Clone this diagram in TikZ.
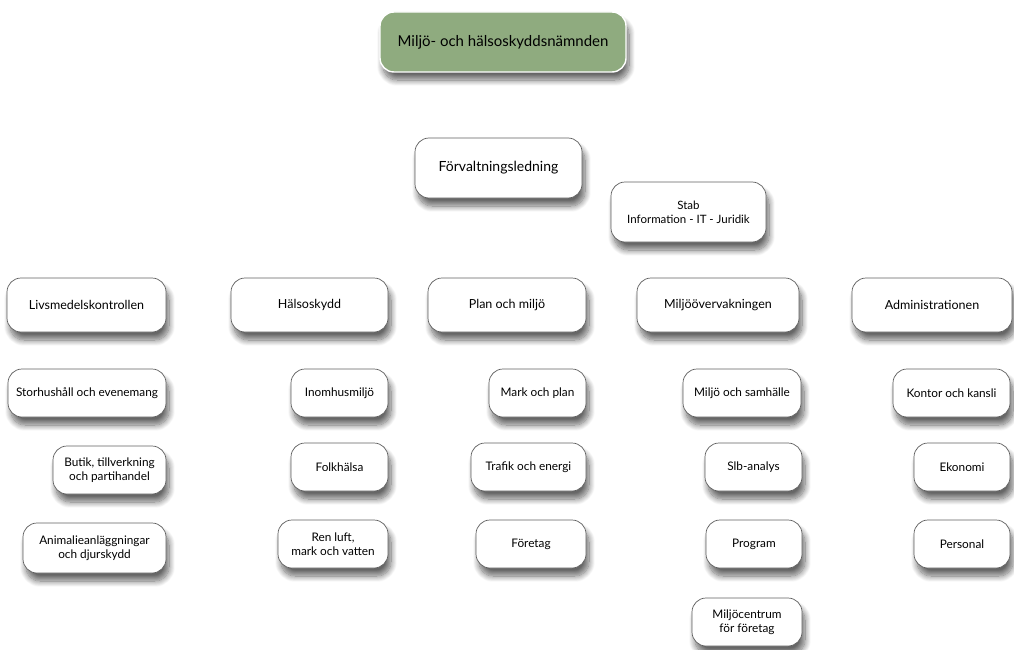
\documentclass[tikz,border=0pt]{standalone}
\usepackage{fontspec}
\setmainfont{Lato}
\usepackage{xcolor}
\usetikzlibrary{positioning, shadows, shadows.blur}
\definecolor{boardgreen}{RGB}{143,171,127}
\definecolor{rimgray}{RGB}{95,95,95}

\begin{document}
\begin{tikzpicture}[
    x=1pt, y=-1pt,
    % Styles
    unit/.style={rectangle, rounded corners=14pt, draw=rimgray, line width=0.7pt, fill=white, align=center, inner sep=2pt,
      blur shadow={shadow xshift=3pt, shadow yshift=-8pt, shadow blur radius=6pt, shadow blur steps=12, shadow opacity=60}},
    board/.style={unit, draw=white, line width=1.4pt, fill=boardgreen, minimum width=246pt, minimum height=60pt, font=\fontsize{15}{17}\selectfont},
    lead/.style={unit, minimum height=60pt, font=\fontsize{14}{16}\selectfont},
    dept/.style={unit, minimum height=54pt, font=\fontsize{12.5}{15}\selectfont},
    sub/.style={unit, minimum height=48pt, font=\fontsize{11.8}{14}\selectfont},
]
\useasboundingbox (0,0) rectangle (1014,650);

% ===== BOARD AND MANAGEMENT =====
\node[board] (board) at (503, 42) {Miljö- och hälsoskyddsnämnden};
\node[lead, minimum width=167pt] (lead) at (498.5, 168) {Förvaltningsledning};
\node[lead, minimum width=155pt, font=\fontsize{11.5}{14}\selectfont] (stab) at (688.5, 212) {Stab\\Information - IT - Juridik};

% ===== DEPARTMENTS =====
\node[dept, minimum width=159pt] (livs) at (86.5, 305) {Livsmedelskontrollen};
\node[dept, minimum width=157pt] (halsa) at (309.5, 305) {Hälsoskydd};
\node[dept, minimum width=158pt] (plan) at (507, 305) {Plan och miljö};
\node[dept, minimum width=162pt] (overv) at (718, 305) {Miljöövervakningen};
\node[dept, minimum width=160pt] (admin) at (932, 305) {Administrationen};

% ===== LIVSMEDELSKONTROLLEN =====
\node[sub, minimum width=158pt] (storh) at (87, 393) {Storhushåll och evenemang};
\node[sub, minimum width=113pt] (butik) at (109.5, 470) {Butik, tillverkning\\och partihandel};
\node[sub, minimum width=143pt, minimum height=50pt] (animal) at (94.5, 548) {Animalieanläggningar\\och djurskydd};

% ===== HÄLSOSKYDD =====
\node[sub, minimum width=97pt] (inomhus) at (339.5, 393) {Inomhusmiljö};
\node[sub, minimum width=97pt] (folk) at (339.5, 467) {Folkhälsa};
\node[sub, minimum width=110pt] (renluft) at (333, 544) {Ren luft,\\mark och vatten};

% ===== PLAN OCH MILJÖ =====
\node[sub, minimum width=97pt] (mark) at (537.5, 393) {Mark och plan};
\node[sub, minimum width=115pt] (trafik) at (528.5, 467) {Trafik och energi};
\node[sub, minimum width=110pt] (foretag) at (531, 544) {Företag};

% ===== MILJÖÖVERVAKNINGEN =====
\node[sub, minimum width=118pt] (samh) at (742, 393) {Miljö och samhälle};
\node[sub, minimum width=97pt] (slb) at (753.5, 467) {Slb-analys};
\node[sub, minimum width=96pt] (prog) at (754, 544) {Program};
\node[sub, minimum width=110pt] (centrum) at (747, 622) {Miljöcentrum\\för företag};

% ===== ADMINISTRATIONEN =====
\node[sub, minimum width=117pt] (kontor) at (951.5, 393) {Kontor och kansli};
\node[sub, minimum width=96pt] (ekonomi) at (962, 467) {Ekonomi};
\node[sub, minimum width=96pt] (personal) at (962, 544) {Personal};

\end{tikzpicture}
\end{document}
